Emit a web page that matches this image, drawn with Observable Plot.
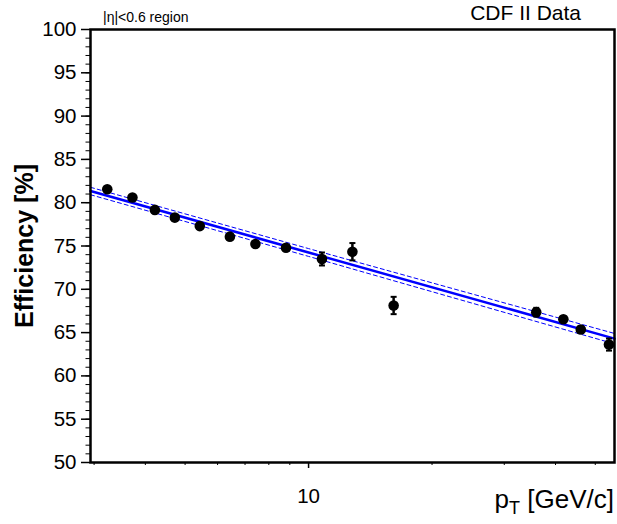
<!DOCTYPE html>
<html><head><meta charset="utf-8">
<script src="https://cdn.jsdelivr.net/npm/d3@7"></script>
<script src="https://cdn.jsdelivr.net/npm/@observablehq/plot@0.6"></script>
<style>body{margin:0;background:#fff;} svg{display:block}</style>
</head><body><div id="chart"></div>
<script>
// measured points
const pT  = [3.23, 3.72, 4.22, 4.72, 5.43, 6.43, 7.42, 8.81, 10.78, 12.79, 16.12, 35.9, 41.8, 46.1, 54.0];
const eff = [81.55, 80.6, 79.17, 78.28, 77.3, 76.08, 75.23, 74.8, 73.5, 74.34, 68.13, 67.36, 66.55, 65.36, 63.62];
const err = [0.25, 0.25, 0.25, 0.25, 0.25, 0.25, 0.3, 0.3, 0.75, 1.0, 1.0, 0.5, 0.3, 0.4, 0.7];
// fit and its uncertainty band
const fitPt = [2.94, 10, 55.7];
const fitEff = [81.35, 74.25, 64.3];
const bandHalf = [0.43, 0.45, 0.6];
// axes
const yMajor = [50, 55, 60, 65, 70, 75, 80, 85, 90, 95, 100];
const yMinor = d3.range(50, 101, 1);
const xMajor = [10];
const xMinor = [3, 4, 5, 6, 7, 8, 9, 20, 30, 40, 50];
const xDomain = [2.94, 55.7];
const yDomain = [50, 100];

const pts = pT.map((p, i) => ({pT: p, eff: eff[i], lo: eff[i] - err[i], hi: eff[i] + err[i]}));
const fit = fitPt.map((p, i) => ({pT: p, eff: fitEff[i], up: fitEff[i] + bandHalf[i], dn: fitEff[i] - bandHalf[i]}));

const capSymbol = {draw(ctx, size) { const w = Math.sqrt(size / Math.PI); ctx.moveTo(-w, 0); ctx.lineTo(w, 0); }};
const font = "Liberation Sans, Arial, Helvetica, sans-serif";

const chart = Plot.plot({
  width: 617, height: 524,
  marginLeft: 90, marginRight: 3, marginTop: 29, marginBottom: 62,
  style: {fontFamily: font, background: "#fff"},
  x: {type: "log", domain: xDomain},
  y: {domain: yDomain},
  marks: [
    Plot.line(fit, {x: "pT", y: "up", stroke: "#0000ff", strokeWidth: 1, strokeDasharray: "4,3"}),
    Plot.line(fit, {x: "pT", y: "dn", stroke: "#0000ff", strokeWidth: 1, strokeDasharray: "4,3"}),
    Plot.line(fit, {x: "pT", y: "eff", stroke: "#0000ff", strokeWidth: 2.5}),
    Plot.ruleX(pts, {x: "pT", y1: "lo", y2: "hi", stroke: "#000", strokeWidth: 2.5}),
    Plot.dot(pts, {x: "pT", y: "lo", r: 3, symbol: capSymbol, stroke: "#000", strokeWidth: 2}),
    Plot.dot(pts, {x: "pT", y: "hi", r: 3, symbol: capSymbol, stroke: "#000", strokeWidth: 2}),
    Plot.dot(pts, {x: "pT", y: "eff", r: 5.3, fill: "#000", stroke: "none"}),
    Plot.axisY({ticks: yMajor, tickSize: 9, tickPadding: 5, fontSize: 20.5, label: null, stroke: "#000", strokeWidth: 1.5}),
    Plot.axisY({ticks: yMinor, tickSize: 4.5, tickFormat: () => "", label: null, stroke: "#000"}),
    Plot.axisX({ticks: xMajor, tickSize: 6, tickPadding: 20, fontSize: 20.5, tickFormat: d => String(d), label: null, stroke: "#000", strokeWidth: 1.5}),
    Plot.axisX({ticks: xMinor, tickSize: 3, tickFormat: () => "", label: null, stroke: "#000"}),
    Plot.frame({stroke: "#000", strokeWidth: 2.5}),
    Plot.text(["Efficiency [%]"], {frameAnchor: "left", dx: -66, rotate: -90, textAnchor: "middle", fontSize: 25, fontWeight: "bold", fill: "#000"})
  ]
});

const svg = d3.select(chart);
svg.append("text").attr("x", 103).attr("y", 22).attr("text-anchor", "start").attr("font-size", 14).attr("font-family", font).attr("fill", "#000").text("|η|<0.6 region");
svg.append("text").attr("x", 581).attr("y", 20).attr("text-anchor", "end").attr("font-size", 21).attr("font-family", font).attr("fill", "#000").text("CDF II Data");
const xl = svg.append("text").attr("x", 614).attr("y", 508).attr("text-anchor", "end").attr("font-size", 26).attr("font-family", font).attr("fill", "#000");
xl.append("tspan").text("p");
xl.append("tspan").attr("font-size", 18).attr("dy", 6).text("T");
xl.append("tspan").attr("dy", -6).text(" [GeV/c]");

document.getElementById("chart").appendChild(chart);
</script>
</body></html>
